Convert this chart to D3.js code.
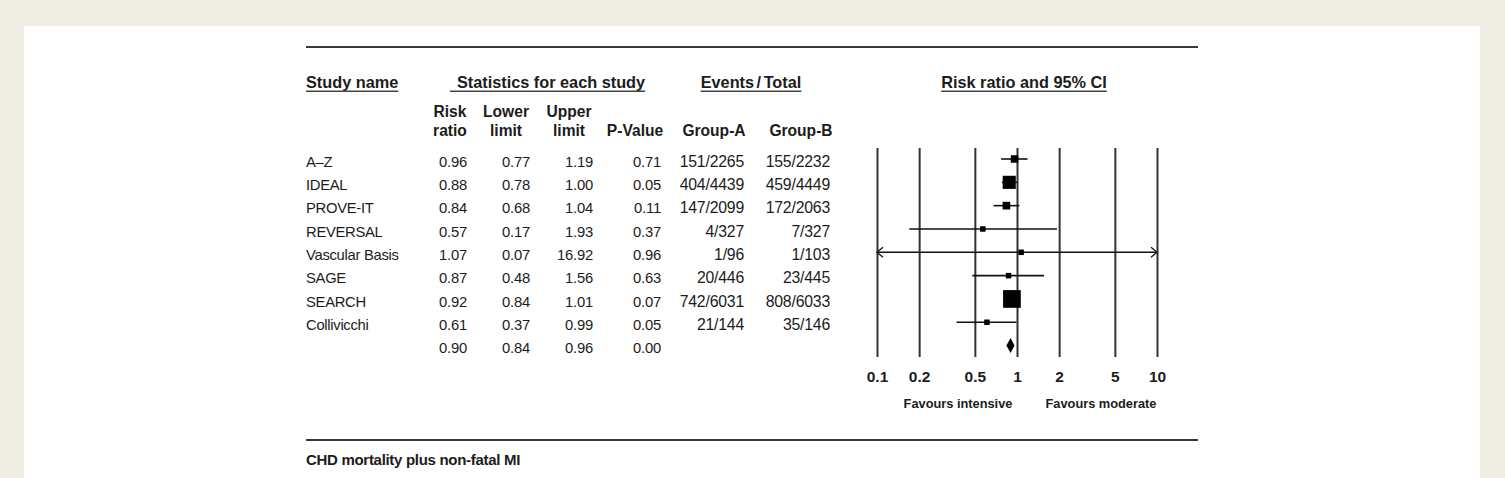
<!DOCTYPE html>
<html>
<head>
<meta charset="utf-8">
<script src="https://cdn.jsdelivr.net/npm/d3@7/dist/d3.min.js"></script>
<style>
  html, body { margin: 0; padding: 0; background: #f0ede3; }
  svg { display: block; }
  text { font-family: "Liberation Sans", Arial, Helvetica, sans-serif; fill: #1c1c1c; }
</style>
</head>
<body>
<svg id="chart" width="1505" height="478"></svg>
<script>
// ---- data ----
const studies   = ["A\u2013Z", "IDEAL", "PROVE-IT", "REVERSAL", "Vascular Basis", "SAGE", "SEARCH", "Collivicchi", ""];
const riskRatio = [0.96, 0.88, 0.84, 0.57, 1.07, 0.87, 0.92, 0.61, 0.90];
const lowerLim  = [0.77, 0.78, 0.68, 0.17, 0.07, 0.48, 0.84, 0.37, 0.84];
const upperLim  = [1.19, 1.00, 1.04, 1.93, 16.92, 1.56, 1.01, 0.99, 0.96];
const pValue    = ["0.71", "0.05", "0.11", "0.37", "0.96", "0.63", "0.07", "0.05", "0.00"];
const groupA    = ["151/2265", "404/4439", "147/2099", "4/327", "1/96", "20/446", "742/6031", "21/144", ""];
const groupB    = ["155/2232", "459/4449", "172/2063", "7/327", "1/103", "23/445", "808/6033", "35/146", ""];
const relWeight = [9.0, 27.7, 9.5, 0.3, 0.06, 1.2, 50.5, 1.8, null]; // estimated % weights (box size)
const isSummary = [false, false, false, false, false, false, false, false, true];
const axisTicks = [0.1, 0.2, 0.5, 1, 2, 5, 10];
const footnote  = "CHD mortality plus non-fatal MI";

// ---- drawing ----
const svg = d3.select("#chart");
svg.append("rect").attr("x", 0).attr("y", 0).attr("width", 1505).attr("height", 478).attr("fill", "#f0ede3");
svg.append("rect").attr("x", 24).attr("y", 26).attr("width", 1456).attr("height", 460).attr("fill", "#ffffff");

const x = d3.scaleLog().domain([0.1, 10]).range([877, 1157]);
const y = d3.scaleLinear().domain([0, studies.length - 1]).range([159, 345.6]);
const boxSize = d3.scaleSqrt().domain([0, 50.5]).range([0, 17.7]);

// rules
[47, 440].forEach(yy => {
  svg.append("line").attr("x1", 306).attr("x2", 1198).attr("y1", yy).attr("y2", yy)
    .attr("stroke", "#3a3a3a").attr("stroke-width", 2);
});

// headers (underlined)
function underlined(parts, cx, base, anchor, ext) {
  const t = svg.append("text").attr("x", cx).attr("y", base)
    .attr("text-anchor", anchor).attr("font-weight", "bold").attr("font-size", 16.3);
  parts.forEach((p, k) => t.append("tspan").attr("dx", k === 0 ? 0 : 2.5).text(p));
  const bb = t.node().getBBox();
  svg.append("line").attr("x1", bb.x - (ext || 0)).attr("x2", bb.x + bb.width)
    .attr("y1", base + 3).attr("y2", base + 3).attr("stroke", "#444").attr("stroke-width", 1.4);
}
underlined(["Study name"], 306, 88.3, "start", 0);
underlined(["Statistics for each study"], 551, 88.3, "middle", 7);
underlined(["Events", "/", "Total"], 751, 88.3, "middle", 0);
underlined(["Risk ratio and 95% CI"], 1024, 88.3, "middle", 0);

// column sub-headers
const cols = [
  { cx: 450, right: 467, h: ["Risk", "ratio"], vals: riskRatio.map(d => d.toFixed(2)), fs: 14.8 },
  { cx: 506, right: 530, h: ["Lower", "limit"], vals: lowerLim.map(d => d.toFixed(2)), fs: 14.8 },
  { cx: 569, right: 593, h: ["Upper", "limit"], vals: upperLim.map(d => d.toFixed(2)), fs: 14.8 },
  { cx: 635, right: 661, h: ["", "P-Value"], vals: pValue, fs: 14.8 },
  { cx: 714, right: 744, h: ["", "Group-A"], vals: groupA, fs: 15.8 },
  { cx: 801, right: 830, h: ["", "Group-B"], vals: groupB, fs: 15.8 }
];
cols.forEach(c => {
  c.h.forEach((line, k) => {
    if (!line) return;
    svg.append("text").attr("x", c.cx).attr("y", k === 0 ? 116.6 : 136.3)
      .attr("text-anchor", "middle").attr("font-weight", "bold").attr("font-size", 15.6).text(line);
  });
  svg.append("g").selectAll("text").data(c.vals).join("text")
    .attr("x", c.right).attr("y", (d, i) => y(i) + 7.6)
    .attr("text-anchor", "end").attr("font-size", c.fs).attr("letter-spacing", -0.2).text(d => d);
});

// study names
svg.append("g").selectAll("text").data(studies).join("text")
  .attr("x", 306).attr("y", (d, i) => y(i) + 7.6)
  .attr("font-size", 14.8).attr("letter-spacing", -0.3).text(d => d);

// forest axis with reference lines
const axis = d3.axisBottom(x).tickValues(axisTicks)
  .tickFormat(d => String(d)).tickSizeInner(-(357 - 148)).tickSizeOuter(0).tickPadding(13.5);
const ag = svg.append("g").attr("transform", "translate(0,357)").call(axis);
ag.select(".domain").remove();
ag.selectAll(".tick line").attr("stroke", "#333").attr("stroke-width", 2);
ag.selectAll(".tick text").attr("font-size", 15.5).attr("font-weight", "bold")
  .attr("font-family", "Liberation Sans, Arial, sans-serif").attr("fill", "#1c1c1c");

// CI lines and boxes
const rows = d3.range(studies.length).filter(i => !isSummary[i]);
const [dMin, dMax] = x.domain();
rows.forEach(i => {
  const yy = y(i);
  const lo = Math.max(lowerLim[i], dMin), hi = Math.min(upperLim[i], dMax);
  svg.append("line").attr("x1", x(lo)).attr("x2", x(hi)).attr("y1", yy).attr("y2", yy)
    .attr("stroke", "#111").attr("stroke-width", 1.6);
  if (lowerLim[i] < dMin) {
    svg.append("path").attr("d", `M${x(dMin) + 6},${yy - 5}L${x(dMin)},${yy}L${x(dMin) + 6},${yy + 5}`)
      .attr("fill", "none").attr("stroke", "#111").attr("stroke-width", 1.3);
  }
  if (upperLim[i] > dMax) {
    svg.append("path").attr("d", `M${x(dMax) - 6},${yy - 5}L${x(dMax)},${yy}L${x(dMax) - 6},${yy + 5}`)
      .attr("fill", "none").attr("stroke", "#111").attr("stroke-width", 1.3);
  }
  const s = Math.max(5.5, boxSize(relWeight[i]));
  svg.append("rect").attr("x", x(riskRatio[i]) - s / 2).attr("y", yy - s / 2)
    .attr("width", s).attr("height", s).attr("fill", "#000");
});

// summary diamond
d3.range(studies.length).filter(i => isSummary[i]).forEach(i => {
  const yy = y(i);
  svg.append("path")
    .attr("d", `M${x(lowerLim[i])},${yy}L${x(riskRatio[i])},${yy - 7.5}L${x(upperLim[i])},${yy}L${x(riskRatio[i])},${yy + 7.5}Z`)
    .attr("fill", "#000");
});

// favours labels
svg.append("text").attr("x", 958).attr("y", 408).attr("text-anchor", "middle")
  .attr("font-size", 12.8).attr("font-weight", "bold").attr("fill", "#333").text("Favours intensive");
svg.append("text").attr("x", 1101).attr("y", 408).attr("text-anchor", "middle")
  .attr("font-size", 12.8).attr("font-weight", "bold").attr("fill", "#333").text("Favours moderate");

// footnote
svg.append("text").attr("x", 306).attr("y", 465.4).attr("font-size", 15).attr("font-weight", "bold")
  .attr("letter-spacing", -0.3).text(footnote);
</script>
</body>
</html>
